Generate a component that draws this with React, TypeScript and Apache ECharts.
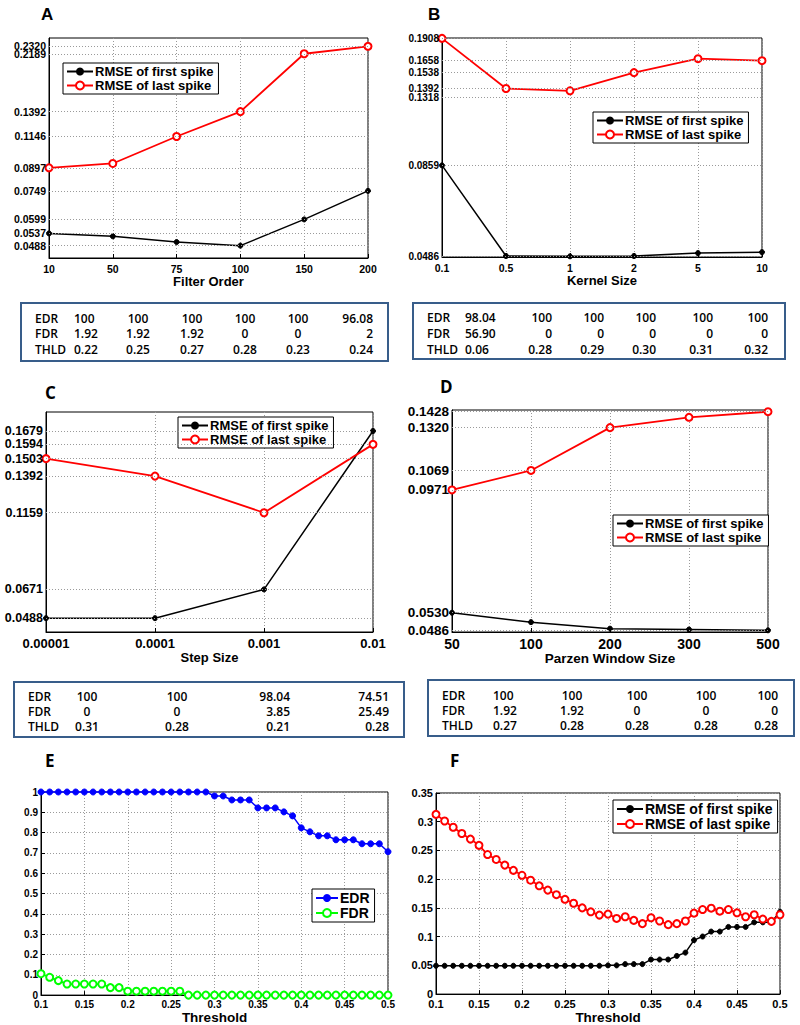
import React, { useEffect, useRef } from "react";
import * as echarts from "echarts";

const FONT = "'Liberation Sans', Arial, Helvetica, sans-serif";
const TFONT = "'Open Sans', 'Noto Sans', sans-serif";
const FIRST = "RMSE of first spike";
const LAST = "RMSE of last spike";

// ---------- Panel A (log y axis) ----------
const filterOrder = ["10", "50", "75", "100", "150", "200"];
const aFirst = [0.0537, 0.0525, 0.0502, 0.0488, 0.0599, 0.0749];
const aLast = [0.0897, 0.0928, 0.1146, 0.1392, 0.2189, 0.232];
const aTicks = [0.0488, 0.0537, 0.0599, 0.0749, 0.0897, 0.1146, 0.1392, 0.2189, 0.232];
const aEDR = ["100", "100", "100", "100", "100", "96.08"];
const aFDR = ["1.92", "1.92", "1.92", "0", "0", "2"];
const aTHLD = ["0.22", "0.25", "0.27", "0.28", "0.23", "0.24"];

// ---------- Panel B (log y axis) ----------
const kernelSize = ["0.1", "0.5", "1", "2", "5", "10"];
const bFirst = [0.0859, 0.0486, 0.0485, 0.0486, 0.0495, 0.0498];
const bLast = [0.1908, 0.1392, 0.1372, 0.1538, 0.1679, 0.1658];
const bTicks = [0.0486, 0.0859, 0.1318, 0.1392, 0.1538, 0.1658, 0.1908];
const bEDR = ["98.04", "100", "100", "100", "100", "100"];
const bFDR = ["56.90", "0", "0", "0", "0", "0"];
const bTHLD = ["0.06", "0.28", "0.29", "0.30", "0.31", "0.32"];

// ---------- Panel C (linear y axis) ----------
const stepSize = ["0.00001", "0.0001", "0.001", "0.01"];
const cFirst = [0.0488, 0.0488, 0.0671, 0.1679];
const cLast = [0.1503, 0.1392, 0.1159, 0.1594];
const cTicks = [0.0488, 0.0671, 0.1159, 0.1392, 0.1503, 0.1594, 0.1679];
const cEDR = ["100", "100", "98.04", "74.51"];
const cFDR = ["0", "0", "3.85", "25.49"];
const cTHLD = ["0.31", "0.28", "0.21", "0.28"];

// ---------- Panel D (log y axis) ----------
const parzenSize = ["50", "100", "200", "300", "500"];
const dFirst = [0.053, 0.0506, 0.049, 0.0488, 0.0486];
const dLast = [0.0971, 0.1069, 0.132, 0.1389, 0.1428];
const dTicks = [0.0486, 0.053, 0.0971, 0.1069, 0.132, 0.1428];
const dEDR = ["100", "100", "100", "100", "100"];
const dFDR = ["1.92", "1.92", "0", "0", "0"];
const dTHLD = ["0.27", "0.28", "0.28", "0.28", "0.28"];

// ---------- Panels E & F ----------
const thresholds = [
  0.1, 0.11, 0.12, 0.13, 0.14, 0.15, 0.16, 0.17, 0.18, 0.19, 0.2, 0.21, 0.22, 0.23,
  0.24, 0.25, 0.26, 0.27, 0.28, 0.29, 0.3, 0.31, 0.32, 0.33, 0.34, 0.35, 0.36, 0.37,
  0.38, 0.39, 0.4, 0.41, 0.42, 0.43, 0.44, 0.45, 0.46, 0.47, 0.48, 0.49, 0.5,
];
const eEDR = [
  1, 1, 1, 1, 1, 1, 1, 1, 1, 1, 1, 1, 1, 1, 1, 1, 1, 1, 1, 1,
  0.9804, 0.9804, 0.9608, 0.9608, 0.9608, 0.9216, 0.9216, 0.9216, 0.902, 0.8824,
  0.8235, 0.8039, 0.7843, 0.7843, 0.7647, 0.7647, 0.7647, 0.7451, 0.7451, 0.7451, 0.7059,
];
const eFDR = [
  0.1053, 0.0877, 0.0714, 0.0545, 0.0545, 0.0545, 0.0545, 0.0545, 0.037, 0.037,
  0.0192, 0.0192, 0.0192, 0.0192, 0.0192, 0.0192, 0.0192,
  0, 0, 0, 0, 0, 0, 0, 0, 0, 0, 0, 0, 0, 0, 0, 0, 0, 0, 0, 0, 0, 0, 0, 0,
];
const fFirst = [
  0.0493, 0.0493, 0.0493, 0.0493, 0.0493, 0.0493, 0.0493, 0.0493, 0.0493, 0.0493,
  0.0493, 0.0493, 0.0493, 0.0493, 0.0493, 0.0493, 0.0493, 0.0493, 0.0493, 0.0493,
  0.05, 0.05, 0.0522, 0.0522, 0.0522, 0.0601, 0.0601, 0.0601, 0.0664, 0.0722,
  0.0939, 0.1002, 0.1088, 0.1088, 0.1169, 0.1169, 0.1169, 0.1249, 0.1249, 0.1249, 0.1432,
];
const fLast = [
  0.3128, 0.3013, 0.2904, 0.2795, 0.2698, 0.2589, 0.2429, 0.2343, 0.2245, 0.2154,
  0.2068, 0.1982, 0.1885, 0.181, 0.173, 0.165, 0.1581, 0.1501, 0.1432, 0.1375,
  0.1392, 0.1317, 0.1346, 0.1283, 0.1226, 0.1329, 0.1272, 0.1209, 0.1226, 0.1272,
  0.1409, 0.1472, 0.1495, 0.1443, 0.1472, 0.1415, 0.1346, 0.1381, 0.1306, 0.1266, 0.1381,
];

const rowNames = ["EDR", "FDR", "THLD"];

// layout of the six plot panels
const grids = [
  { left: 49, top: 38, width: 319, height: 220 },
  { left: 442, top: 38, width: 320, height: 219 },
  { left: 46, top: 412, width: 327, height: 220 },
  { left: 452, top: 410, width: 316, height: 222 },
  { left: 41, top: 792, width: 347, height: 204 },
  { left: 436, top: 793, width: 344, height: 203 },
];

const GRID_COLOR = "#9a9a9a";
const gridLine = { show: true, lineStyle: { color: GRID_COLOR, type: [1, 2], width: 1 } };
const axisLine = { show: true, onZero: false, lineStyle: { color: "#000", width: 1 } };

function catX(idx: number, data: string[], name: string, fs: number, nfs: number, nameGap: number) {
  return {
    type: "category",
    gridIndex: idx,
    data,
    boundaryGap: false,
    axisLine,
    axisTick: { show: true, inside: true, length: 4, interval: 0, lineStyle: { color: "#000" } },
    axisLabel: { interval: 0, color: "#000", fontFamily: FONT, fontWeight: "bold", fontSize: fs, margin: 5 },
    splitLine: { ...gridLine, interval: 0 },
    name,
    nameLocation: "middle",
    nameGap,
    nameTextStyle: { color: "#000", fontFamily: FONT, fontWeight: "bold", fontSize: nfs },
  };
}

function valX(idx: number, name: string, fs: number, nfs: number, nameGap: number) {
  return {
    type: "value",
    gridIndex: idx,
    min: 0.1,
    max: 0.5,
    interval: 0.05,
    axisLine,
    axisTick: { show: true, inside: true, length: 4, lineStyle: { color: "#000" } },
    axisLabel: {
      color: "#000", fontFamily: FONT, fontWeight: "bold", fontSize: fs, margin: 4,
      formatter: (v: number) => String(parseFloat(v.toFixed(2))),
    },
    splitLine: gridLine,
    name,
    nameLocation: "middle",
    nameGap,
    nameTextStyle: { color: "#000", fontFamily: FONT, fontWeight: "bold", fontSize: nfs },
  };
}

// y axis whose ticks are drawn by a markLine (labels + dotted grid)
function customY(idx: number, type: string, min: number, max: number) {
  return {
    type,
    logBase: 10,
    gridIndex: idx,
    min,
    max,
    axisLine,
    axisTick: { show: false },
    axisLabel: { show: false },
    splitLine: { show: false },
  };
}

function regY(idx: number, max: number, interval: number, fs: number) {
  return {
    type: "value",
    gridIndex: idx,
    min: 0,
    max,
    interval,
    axisLine,
    axisTick: { show: true, inside: true, length: 4, lineStyle: { color: "#000" } },
    axisLabel: {
      color: "#000", fontFamily: FONT, fontWeight: "bold", fontSize: fs, margin: 3,
      formatter: (v: number) => String(parseFloat(v.toFixed(2))),
    },
    splitLine: gridLine,
  };
}

function tickLines(ticks: number[], fs: number) {
  return {
    silent: true,
    symbol: ["none", "none"],
    precision: 4,
    animation: false,
    lineStyle: { color: GRID_COLOR, type: [1, 2], width: 1 },
    label: {
      show: true,
      position: "start",
      distance: 3,
      color: "#000",
      fontFamily: FONT,
      fontWeight: "bold",
      fontSize: fs,
      formatter: (p: any) => Number(p.value).toFixed(4),
    },
    emphasis: { disabled: true },
    data: ticks.map((v) => ({ yAxis: v })),
  };
}

function firstSeries(idx: number, data: any[], name = FIRST, color = "#000", size = 5, markLine?: any) {
  const s: any = {
    type: "line", name, xAxisIndex: idx, yAxisIndex: idx, data, clip: false,
    symbol: "circle", symbolSize: size, showSymbol: true,
    itemStyle: { color, borderColor: color },
    lineStyle: { color, width: 1.5 },
    emphasis: { disabled: true }, silent: true, z: 3,
  };
  if (markLine) s.markLine = markLine;
  return s;
}

function lastSeries(idx: number, data: any[], name = LAST, color = "#ff0000", size = 7) {
  return {
    type: "line", name, xAxisIndex: idx, yAxisIndex: idx, data, clip: false,
    symbol: "emptyCircle", symbolSize: size, showSymbol: true,
    itemStyle: { color, borderColor: color, borderWidth: 1.5 },
    lineStyle: { color, width: 1.8 },
    emphasis: { disabled: true }, silent: true, z: 4,
  };
}

function legend(left: number, top: number, names: string[], fs: number, itemWidth = 26) {
  return {
    orient: "vertical", left, top, data: names, selectedMode: false,
    backgroundColor: "#fff", borderColor: "#000", borderWidth: 1, borderRadius: 0,
    padding: [2, 5, 2, 3], itemGap: 1, itemWidth, itemHeight: 10,
    textStyle: { color: "#000", fontFamily: FONT, fontWeight: "bold", fontSize: fs, padding: [0, 0, 0, -3] },
  };
}

type Col = { x: number; align: string };
function table(box: number[], labelX: number, rowsY: number[], cols: Col[], rows: string[][]) {
  const els: any[] = [
    {
      type: "rect",
      shape: { x: box[0], y: box[1], width: box[2], height: box[3] },
      style: { fill: "#fff", stroke: "#385D8A", lineWidth: 2 },
      z: 10,
    },
  ];
  rows.forEach((vals, r) => {
    els.push({
      type: "text", x: labelX, y: rowsY[r], z: 11,
      style: { text: rowNames[r], fill: "#000", font: `600 12px ${TFONT}`, textAlign: "left", textVerticalAlign: "middle" },
    });
    vals.forEach((v, c) => {
      els.push({
        type: "text", x: cols[c].x, y: rowsY[r], z: 11,
        style: { text: v, fill: "#000", font: `600 12px ${TFONT}`, textAlign: cols[c].align, textVerticalAlign: "middle" },
      });
    });
  });
  return els;
}

function letter(t: string, x: number, y: number, family: string) {
  return {
    type: "text", x, y, z: 11,
    style: { text: t, fill: "#000", font: `bold 17px ${family}`, textAlign: "left", textVerticalAlign: "middle" },
  };
}

export default function App() {
  const ref = useRef<HTMLDivElement>(null);
  useEffect(() => {
    if (!ref.current) return;
    const chart = echarts.init(ref.current, null, { renderer: "svg" });
    const pair = (ys: number[]) => thresholds.map((t, i) => [t, ys[i]]);

    const graphic: any[] = [
      letter("A", 41, 14, FONT),
      letter("B", 428, 14, FONT),
      letter("C", 45, 392, TFONT),
      letter("D", 440, 386, TFONT),
      letter("E", 45, 760, TFONT),
      letter("F", 450, 760, TFONT),
      ...table([21, 303, 367, 58], 35, [318, 333.5, 349],
        [
          { x: 74, align: "left" }, { x: 138, align: "center" }, { x: 192, align: "center" },
          { x: 245, align: "center" }, { x: 298, align: "center" }, { x: 373, align: "right" },
        ],
        [aEDR, aFDR, aTHLD]),
      ...table([413, 303, 372, 56], 427, [317.5, 333.5, 349.5],
        [
          { x: 465, align: "left" }, { x: 552, align: "right" }, { x: 604, align: "right" },
          { x: 656, align: "right" }, { x: 713, align: "right" }, { x: 768, align: "right" },
        ],
        [bEDR, bFDR, bTHLD]),
      ...table([14, 682, 390, 55], 28, [696.5, 711.5, 726.5],
        [
          { x: 87, align: "center" }, { x: 177, align: "center" },
          { x: 290, align: "right" }, { x: 389, align: "right" },
        ],
        [cEDR, cFDR, cTHLD]),
      ...table([428, 680, 366, 56], 442, [695, 710, 725],
        [
          { x: 493, align: "left" }, { x: 572, align: "center" }, { x: 637, align: "center" },
          { x: 706, align: "center" }, { x: 778, align: "right" },
        ],
        [dEDR, dFDR, dTHLD]),
    ];

    const option: any = {
      animation: false,
      backgroundColor: "#fff",
      grid: grids.map((g) => ({ ...g, show: true, borderColor: "#000", borderWidth: 1, backgroundColor: "transparent", containLabel: false })),
      xAxis: [
        catX(0, filterOrder, "Filter Order", 10.5, 13, 14),
        catX(1, kernelSize, "Kernel Size", 10.5, 13, 14),
        catX(2, stepSize, "Step Size", 13, 13, 17),
        catX(3, parzenSize, "Parzen Window Size", 14, 13.5, 16),
        valX(4, "Threshold", 10, 13.5, 12),
        valX(5, "Threshold", 11, 13.5, 12),
      ],
      yAxis: [
        customY(0, "log", 0.0443, 0.2476),
        customY(1, "log", 0.0483, 0.1912),
        customY(2, "value", 0.04, 0.18),
        customY(3, "log", 0.0482, 0.144),
        regY(4, 1, 0.1, 10),
        regY(5, 0.35, 0.05, 11),
      ],
      legend: [
        legend(63, 63, [FIRST, LAST], 13),
        legend(593, 112, [FIRST, LAST], 13),
        legend(178, 417, [FIRST, LAST], 13),
        legend(613, 515, [FIRST, LAST], 13),
        legend(312, 889, ["EDR", "FDR"], 14, 22),
        legend(613, 800, [FIRST, LAST], 14),
      ],
      series: [
        firstSeries(0, aFirst, FIRST, "#000", 5, tickLines(aTicks, 10.5)), lastSeries(0, aLast),
        firstSeries(1, bFirst, FIRST, "#000", 5, tickLines(bTicks, 10)), lastSeries(1, bLast),
        firstSeries(2, cFirst, FIRST, "#000", 5, tickLines(cTicks, 12.5)), lastSeries(2, cLast),
        firstSeries(3, dFirst, FIRST, "#000", 5, tickLines(dTicks, 13.5)), lastSeries(3, dLast),
        firstSeries(4, pair(eEDR), "EDR", "#0000ff", 6), lastSeries(4, pair(eFDR), "FDR", "#00ff00", 7),
        firstSeries(5, pair(fFirst), FIRST, "#000", 5), lastSeries(5, pair(fLast), LAST, "#ff0000", 7),
      ],
      graphic,
    };
    chart.setOption(option);
    return () => chart.dispose();
  }, []);
  return <div ref={ref} style={{ position: "absolute", left: 0, top: 0, width: 800, height: 1025 }} />;
}
